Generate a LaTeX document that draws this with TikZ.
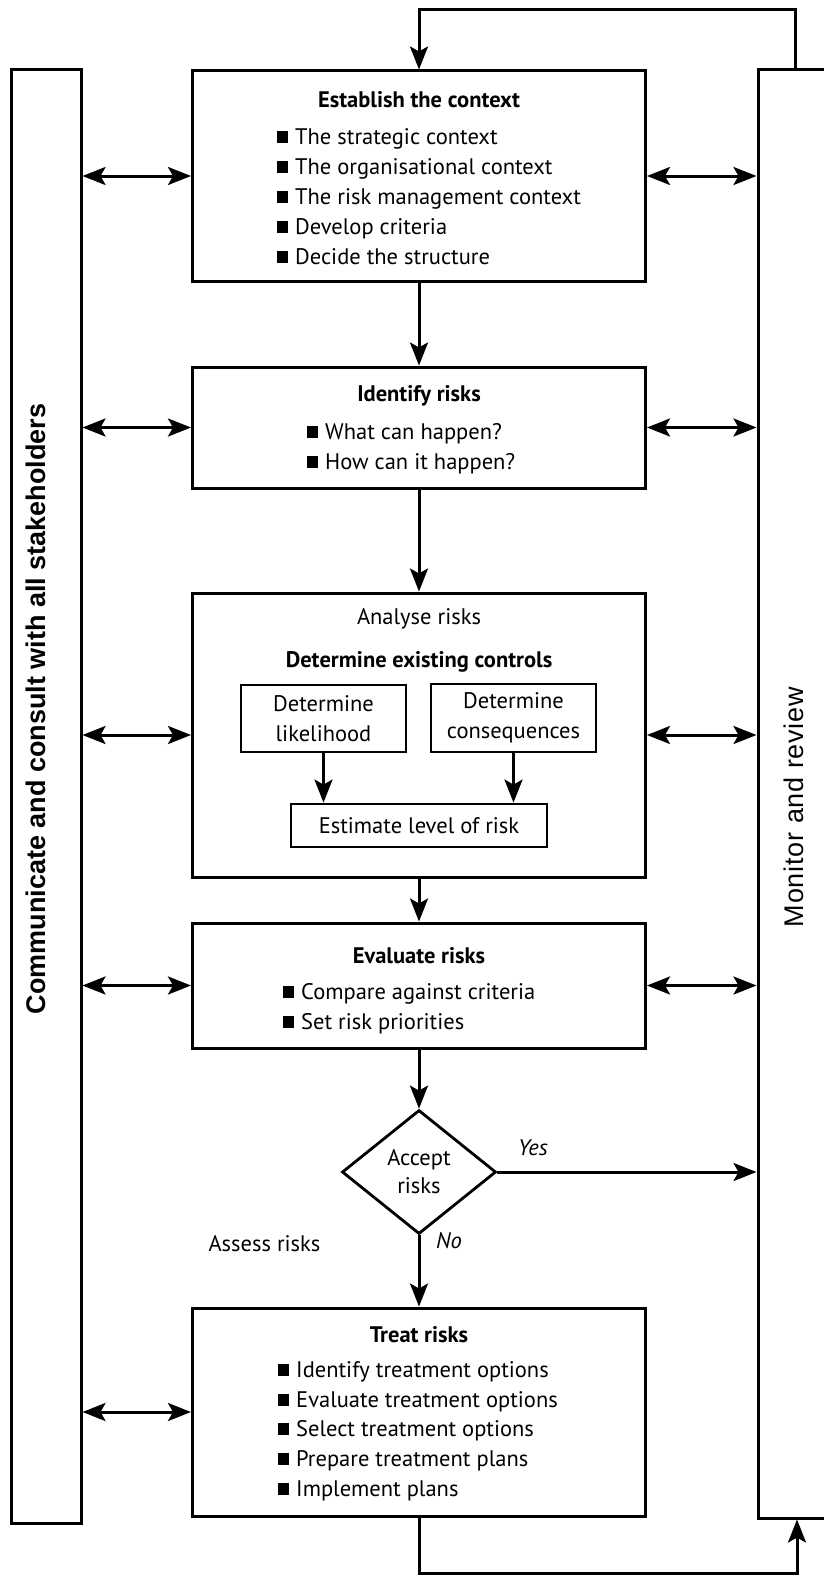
\documentclass[tikz,border=0pt]{standalone}
\usepackage{fontspec}
\setmainfont{PT Sans}
\newfontfamily\barfont{Liberation Sans}
\usetikzlibrary{arrows.meta,shapes.geometric}

\tikzset{
  >={Stealth[length=23pt,width=18pt,inset=5pt]},
  stage/.style={draw,line width=3pt,minimum width=453pt,inner sep=0pt},
  subbox/.style={draw,line width=2.8pt,inner sep=0pt,align=center,
    font=\fontsize{22.5}{30}\selectfont},
  bar/.style={draw,line width=3pt,inner sep=0pt},
  flow/.style={line width=3pt,->},
  talk/.style={line width=3pt,<->},
  head/.style={font=\fontsize{22.5}{27}\selectfont\bfseries,anchor=base,inner sep=0pt},
  item/.style={font=\fontsize{22.5}{27}\selectfont,anchor=base west,inner sep=0pt},
}
\newcommand\blt{\rule[1pt]{11pt}{12pt}\hspace{7pt}}

\begin{document}
\begin{tikzpicture}[x=1pt,y=-1pt]
  \useasboundingbox (0,0) rectangle (823,1576);

  % side bars
  \node[bar,minimum width=69.5pt,minimum height=1453pt] (com) at (46.25,796.5) {};
  \node[bar,minimum width=142pt,minimum height=1448pt] (mon) at (829,794) {};
  \node[rotate=90,anchor=base,inner sep=0pt,font=\barfont\fontsize{27}{30}\selectfont\bfseries]
    (comtxt) at (45,709) {Communicate and consult with all stakeholders};
  \node[rotate=90,anchor=base,inner sep=0pt,
    font=\barfont\fontsize{27}{30}\selectfont\addfontfeature{LetterSpace=3}]
    (montxt) at (803,807) {Monitor and review};

  % establish the context
  \node[stage,minimum height=210pt] (ctx) at (419,176) {};
  \node[head] (ctxh) at (419,108) {Establish the context};
  \node[item] (ctx1) at (277,144) {\blt The strategic context};
  \node[item] (ctx2) at (277,174) {\blt The organisational context};
  \node[item] (ctx3) at (277,204) {\blt The risk management context};
  \node[item] (ctx4) at (277,234) {\blt Develop criteria};
  \node[item] (ctx5) at (277,264) {\blt Decide the structure};

  % identify risks
  \node[stage,minimum height=121pt] (idf) at (419,427.5) {};
  \node[head] (idfh) at (419,401) {Identify risks};
  \node[item] (idf1) at (307,439) {\blt What can happen?};
  \node[item] (idf2) at (307,469) {\blt How can it happen?};

  % analyse risks
  \node[stage,minimum height=284pt] (ana) at (419,735) {};
  \node[head,font=\fontsize{22.5}{27}\selectfont] (anah) at (419,624) {Analyse risks};
  \node[head] (anactl) at (419,667) {Determine existing controls};
  \node[subbox,minimum width=165pt,minimum height=67pt] (lik) at (323.5,718.5) {Determine\\likelihood};
  \node[subbox,minimum width=165pt,minimum height=68pt] (con) at (513.5,718) {Determine\\consequences};
  \node[subbox,minimum width=256pt,minimum height=43pt] (est) at (419,825.5) {Estimate level of risk};
  \draw[flow] (lik.south) -- (lik.south |- est.north);
  \draw[flow] (con.south) -- (con.south |- est.north);

  % evaluate risks
  \node[stage,minimum height=125pt] (eva) at (419,985.5) {};
  \node[head] (evah) at (419,963) {Evaluate risks};
  \node[item] (eva1) at (283,999) {\blt Compare against criteria};
  \node[item] (eva2) at (283,1029) {\blt Set risk priorities};

  % decision
  \node[diamond,draw,line width=2.8pt,minimum width=154pt,minimum height=124pt,
    inner sep=0pt,aspect=1.24,align=center,font=\fontsize{22.5}{28}\selectfont]
    (acc) at (419,1172) {Accept\\risks};
  \node[font=\fontsize{22.5}{27}\selectfont\itshape] (yes) at (533,1148) {Yes};
  \node[font=\fontsize{22.5}{27}\selectfont\itshape] (no) at (449,1241) {No};
  \node[font=\fontsize{22.5}{27}\selectfont] (assess) at (264.5,1244) {Assess risks};

  % treat risks
  \node[stage,minimum height=208pt] (trt) at (419,1412) {};
  \node[head] (trth) at (419,1342) {Treat risks};
  \node[item] (trt1) at (278,1377) {\blt Identify treatment options};
  \node[item] (trt2) at (278,1407) {\blt Evaluate treatment options};
  \node[item] (trt3) at (278,1436) {\blt Select treatment options};
  \node[item] (trt4) at (278,1466) {\blt Prepare treatment plans};
  \node[item] (trt5) at (278,1496) {\blt Implement plans};

  % main flow
  \draw[flow] (ctx.south) -- (idf.north);
  \draw[flow] (idf.south) -- (ana.north);
  \draw[flow] (ana.south) -- (eva.north);
  \draw[flow] (eva.south) -- (acc.north);
  \draw[flow] (acc.south) -- (trt.north);
  \draw[flow] (acc.east) -- (acc.east -| mon.west);

  % feedback loop
  \coordinate (tr) at (795,10);
  \coordinate (br) at (797,1573);
  \draw[flow] (mon.north -| tr) -- (tr) -- (tr -| ctx.north) -- (ctx.north);
  \draw[flow] (trt.south) -- (trt.south |- br) -- (br) -- (br |- mon.south);

  % communication both ways
  \draw[talk] (com.east |- ctx.west) -- (ctx.west);
  \draw[talk] (com.east |- idf.west) -- (idf.west);
  \draw[talk] (com.east |- ana.west) -- (ana.west);
  \draw[talk] (com.east |- eva.west) -- (eva.west);
  \draw[talk] (com.east |- trt.west) -- (trt.west);
  \draw[talk] (ctx.east) -- (ctx.east -| mon.west);
  \draw[talk] (idf.east) -- (idf.east -| mon.west);
  \draw[talk] (ana.east) -- (ana.east -| mon.west);
  \draw[talk] (eva.east) -- (eva.east -| mon.west);
\end{tikzpicture}
\end{document}
